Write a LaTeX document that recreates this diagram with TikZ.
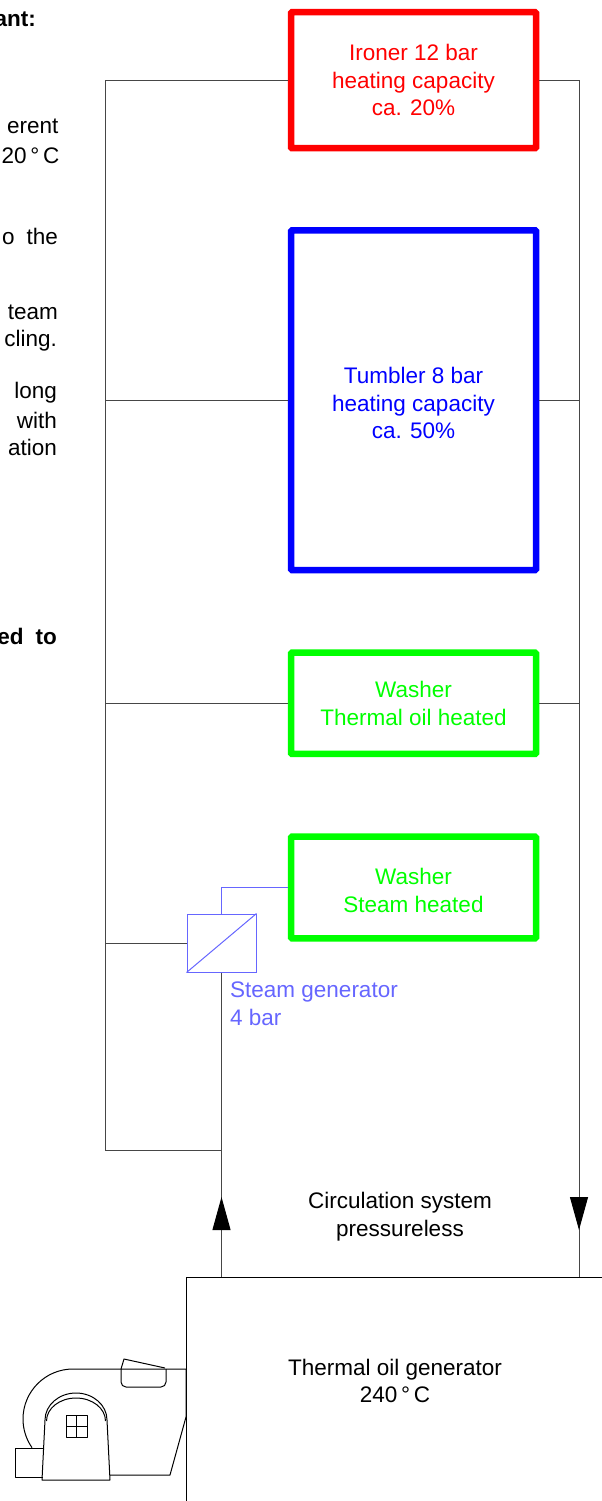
\documentclass[tikz,border=0pt]{standalone}
\usepackage{fontspec}
\setmainfont{Liberation Sans}
\usetikzlibrary{arrows.meta}
\definecolor{steamblue}{RGB}{102,102,255}
\definecolor{pipegray}{RGB}{70,70,70}
\definecolor{brightgreen}{RGB}{0,255,0}
\begin{document}
\begin{tikzpicture}[x=1pt,y=-1pt,
  txt/.style={font=\fontsize{22.5}{27.5}\selectfont, inner sep=0pt},
  unit/.style={draw, line width=6.5pt, rounded corners=1pt, fill=white,
    inner sep=0pt, minimum width=245pt},
  unittext/.style={txt, align=center},
  pipe/.style={draw=pipegray, line width=1pt},
  flow/.style={-{Triangle[width=18pt,length=33pt,color=black]}},
  steamline/.style={draw=steamblue, line width=1pt},
  blower/.style={draw=black, line width=1pt, line join=round},
  frag/.style={txt, anchor=base east},
  boldfrag/.style={frag, font=\fontsize{22.5}{27.5}\selectfont\bfseries},
]
\useasboundingbox (0,0) rectangle (602,1501);
\clip (0,0) rectangle (602,1501);

% cut-off text on the left
\node[boldfrag] (f0) at (36,27) {ant:};
\node[frag] (f1) at (58.5,133) {erent};
\node[frag] (f2) at (59.5,164) {20\,°\,C};
\node[frag] (f3) at (58,244) {o\hspace{12pt}the};
\node[frag] (f4) at (58,319) {team};
\node[frag] (f5) at (57,346) {cling.};
\node[frag] (f6) at (57,398) {long};
\node[frag] (f7) at (57,428) {with};
\node[frag] (f8) at (57,455) {ation};
\node[boldfrag] (f9) at (57,644) {ed\hspace{12pt}to};

% thermal oil generator
\node[draw, line width=1pt, minimum width=460pt, minimum height=300pt, anchor=north west, inner sep=0pt] (gen) at (186,1277) {};
\node[txt, align=center] (gentext) at (395,1380.7) {Thermal oil generator\\240\,°\,C};

% consumers
\node[unit, draw=red, minimum height=136pt] (ironer) at (413.5,80.2) {};
\node[unittext, text=red] (ironertext) at (ironer.center) {Ironer 12 bar\\heating capacity\\ca. 20\%};
\node[unit, draw=blue, minimum height=339.7pt] (tumbler) at (413.5,400.2) {};
\node[unittext, text=blue] (tumblertext) at ([yshift=-3pt]tumbler.center) {Tumbler 8 bar\\heating capacity\\ca. 50\%};
\node[unit, draw=brightgreen, minimum height=101.3pt] (washerA) at (413.5,703.3) {};
\node[unittext, text=brightgreen] (washerAtext) at (washerA.center) {Washer\\Thermal oil heated};
\node[unit, draw=brightgreen, minimum height=101.6pt] (washerB) at (413.5,887.5) {};
\node[unittext, text=brightgreen] (washerBtext) at ([yshift=-3pt]washerB.center) {Washer\\Steam heated};

% steam generator
\node[draw=steamblue, line width=1pt, minimum width=69pt, minimum height=58pt, inner sep=0pt] (sg) at (221.5,943) {};
\draw[steamline] (sg.south west) -- (sg.north east);
\node[txt, align=left, anchor=north west, text=steamblue] (sglabel) at (230,982) {Steam generator\\4 bar};

% pipes
\coordinate (Lbot) at (105,1150);
\coordinate (Rx) at (579,0);
\coordinate (upTip) at (221,1197);
\coordinate (dnTip) at (579,1230);
\draw[pipe] (ironer.west) -| (Lbot) -- (Lbot -| sg.south);
\draw[pipe] (tumbler.west) -- (tumbler.west -| Lbot);
\draw[pipe] (washerA.west) -- (washerA.west -| Lbot);
\draw[pipe] (sg.west) -- (sg.west -| Lbot);
\draw[steamline] (sg.north) |- (washerB.west);
\draw[pipe] (sg.south) -- (gen.north -| sg.south);
\draw[pipe, flow] (gen.north -| sg.south) -- (sg.south |- upTip);
\draw[pipe] (ironer.east) -| (Rx |- gen.north);
\draw[pipe] (tumbler.east) -- (tumbler.east -| Rx);
\draw[pipe] (washerA.east) -- (washerA.east -| Rx);
\draw[pipe, flow] (washerA.east -| Rx) -- (Rx |- dnTip);

\node[txt, align=center] (circ) at (400,1216.7) {Circulation system\\pressureless};

% burner / blower
\draw[blower] (186,1369) -- (73,1369) arc[start angle=90, end angle=215, radius=50pt];
\draw[blower] (186,1369) -- (186,1417) -- (170,1475) -- (110,1475);
\draw[blower] (45,1420) -- (42,1480) -- (110,1480) -- (107,1420)
  arc[start angle=0, end angle=180, x radius=31pt, y radius=27pt];
\draw[blower] (105.5,1421) arc[start angle=0, end angle=180, x radius=29.5pt, y radius=23pt];
\draw[blower] (43.5,1448) -- (15,1448) -- (15,1477) -- (42.5,1477);
\draw[blower] (66,1415) rectangle (87,1437);
\draw[blower] (76.5,1415) -- (76.5,1437) (66,1426) -- (87,1426);
\draw[blower] (121,1369) -- (124,1359) -- (165,1368);
\draw[blower, rounded corners=5pt] (121,1369) -- (121,1387) -- (166,1387) -- (166,1369);
\end{tikzpicture}
\end{document}
